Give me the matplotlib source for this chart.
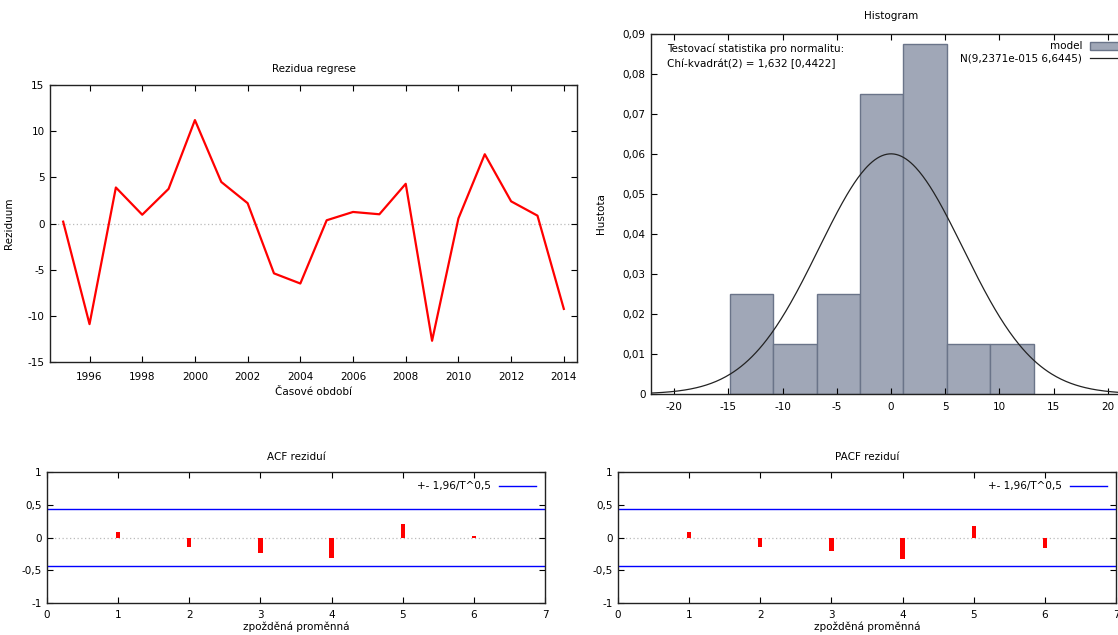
import numpy as np
import matplotlib
matplotlib.use("Agg")
import matplotlib.pyplot as plt
from matplotlib.ticker import FuncFormatter, MultipleLocator

plt.rcParams['font.family'] = ['DejaVu Sans']
plt.rcParams['font.size'] = 7.5
plt.rcParams['axes.unicode_minus'] = False

# ---- data ----
years = list(range(1995, 2015))
residuals = [0.2, -10.9, 3.9, 0.95, 3.75, 11.2, 4.5, 2.2, -5.4, -6.5,
             0.35, 1.25, 1.0, 4.3, -12.7, 0.55, 7.5, 2.4, 0.85, -9.25]

hist_edges = [-14.85, -10.85, -6.85, -2.85, 1.15, 5.15, 9.15, 13.15]
norm_mean = 9.2371e-15
norm_sd = 6.6445
chi2_text = "Testovací statistika pro normalitu:\nChí-kvadrát(2) = 1,632 [0,4422]"
norm_label = "N(9,2371e-015 6,6445)"

lags = [1, 2, 3, 4, 5, 6]
acf_vals = [0.08, -0.14, -0.24, -0.31, 0.21, 0.03]
pacf_vals = [0.08, -0.14, -0.21, -0.33, 0.18, -0.165]
T = 20
band_label = "+- 1,96/T^0,5"

# ---- helpers ----
def comma(v, pos=None):
    s = f"{v:g}"
    return s.replace('.', ',')

def style(ax, xpad=4):
    ax.tick_params(direction='in', length=4, top=True, right=True,
                   labelsize=7.5, colors='black', width=0.8, pad=4)
    ax.tick_params(axis='x', pad=xpad)
    for sp in ax.spines.values():
        sp.set_color('#222222')
        sp.set_linewidth(1.0)

fig = plt.figure(figsize=(11.18, 6.35), dpi=100)
W, H = 1118, 635
def rect(l, r, t, b):
    return [l / W, 1 - b / H, (r - l) / W, (b - t) / H]

# ---- top-left: residuals ----
ax1 = fig.add_axes(rect(50, 577, 85, 362))
ax1.plot(years, residuals, color='#ff0000', lw=1.6)
ax1.axhline(0, color='#bbbbbb', lw=0.9, ls=(0, (1, 2)), zorder=0)
ax1.set_xlim(1994.5, 2014.5)
ax1.set_ylim(-15, 15)
ax1.set_xticks(range(1996, 2015, 2))
ax1.yaxis.set_major_locator(MultipleLocator(5))
ax1.yaxis.set_major_formatter(FuncFormatter(comma))
ax1.set_title("Rezidua regrese", fontsize=7.5, pad=9)
ax1.set_xlabel("Časové období", labelpad=4)
ax1.set_ylabel("Reziduum", labelpad=10)
style(ax1, xpad=7)

# ---- top-right: histogram ----
ax2 = fig.add_axes(rect(651, 1131, 34, 394))
ax2.hist(residuals, bins=hist_edges, density=True, color='#a0a7b7',
         edgecolor='#6a7489', linewidth=1.0, label='model')
xs = np.linspace(-22.13, 22.13, 400)
pdf = np.exp(-0.5 * ((xs - norm_mean) / norm_sd) ** 2) / (norm_sd * np.sqrt(2 * np.pi))
ax2.plot(xs, pdf, color='#222222', lw=0.9, label=norm_label)
ax2.set_xlim(-22.13, 22.13)
ax2.set_ylim(0, 0.09)
ax2.xaxis.set_major_locator(MultipleLocator(5))
ax2.yaxis.set_major_locator(MultipleLocator(0.01))
ax2.yaxis.set_major_formatter(FuncFormatter(comma))
ax2.xaxis.set_major_formatter(FuncFormatter(comma))
ax2.set_title("Histogram", fontsize=7.5, pad=11)
ax2.set_ylabel("Hustota", labelpad=12)
ax2.text(0.033, 0.975, chi2_text, transform=ax2.transAxes, va='top', ha='left',
         fontsize=7.5, linespacing=1.6)
leg = ax2.legend(loc='upper right', frameon=False, markerfirst=False,
                 handlelength=3.2, handleheight=0.8, borderaxespad=0.3,
                 labelspacing=0.25, fontsize=7.5)
style(ax2, xpad=6)

# ---- bottom: ACF / PACF ----
def corr_panel(ax, vals, title):
    band = 1.96 / np.sqrt(T)
    ax.axhline(band, color='#0000ff', lw=1.0, label=band_label)
    ax.axhline(-band, color='#0000ff', lw=1.0)
    ax.axhline(0, color='#bbbbbb', lw=0.9, ls=(0, (1, 2)), zorder=0)
    ax.bar(lags, vals, width=0.06, color='#ff0000', zorder=3)
    ax.set_xlim(0, 7)
    ax.set_ylim(-1, 1)
    ax.xaxis.set_major_locator(MultipleLocator(1))
    ax.yaxis.set_major_locator(MultipleLocator(0.5))
    ax.yaxis.set_major_formatter(FuncFormatter(comma))
    ax.set_title(title, fontsize=7.5, pad=9)
    ax.set_xlabel("zpožděná proměnná", labelpad=1)
    ax.legend(loc='upper right', frameon=False, markerfirst=False,
              handlelength=3.5, borderaxespad=0.5, fontsize=7.5)
    style(ax, xpad=5)

ax3 = fig.add_axes(rect(47, 545, 472, 603))
corr_panel(ax3, acf_vals, "ACF reziduí")
ax4 = fig.add_axes(rect(618, 1116, 472, 603))
corr_panel(ax4, pacf_vals, "PACF reziduí")

fig.savefig("out.png", dpi=100)
